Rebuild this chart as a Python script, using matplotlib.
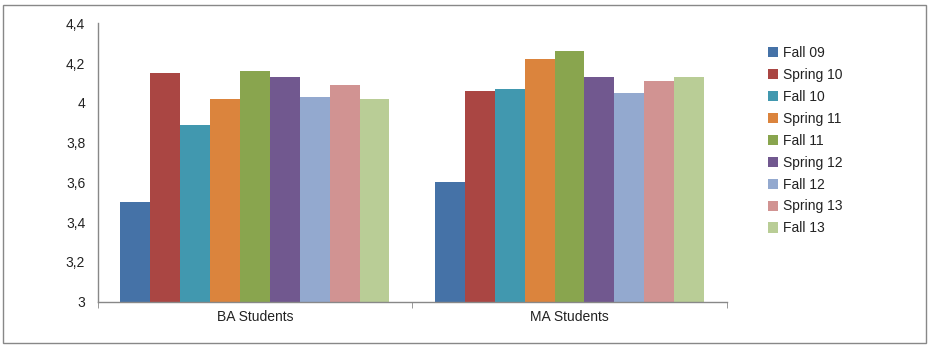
import numpy as np
import matplotlib
matplotlib.use("Agg")
import matplotlib.pyplot as plt
from matplotlib.patches import Rectangle, Patch

# Data
groups = ["BA Students", "MA Students"]
semesters = ["Fall 09", "Spring 10", "Fall 10", "Spring 11", "Fall 11",
             "Spring 12", "Fall 12", "Spring 13", "Fall 13"]
ba_scores = [3.50, 4.15, 3.89, 4.02, 4.16, 4.13, 4.03, 4.09, 4.02]
ma_scores = [3.60, 4.06, 4.07, 4.22, 4.26, 4.13, 4.05, 4.11, 4.13]
colors = ["#4572A7", "#AA4643", "#4198AF", "#DB843D", "#89A54E",
          "#71588F", "#93A9CF", "#D19392", "#B9CD96"]
yticks = [3, 3.2, 3.4, 3.6, 3.8, 4, 4.2, 4.4]
ytick_labels = ["3", "3,2", "3,4", "3,6", "3,8", "4", "4,2", "4,4"]

plt.rcParams["font.family"] = ["Liberation Sans", "DejaVu Sans"]
plt.rcParams["font.size"] = 10

fig = plt.figure(figsize=(9.32, 3.49), dpi=100)
ax = fig.add_axes([0.1048, 0.1355, 0.675, 0.7977])

# outer chart border
fig.patches.append(Rectangle((0.0032, 0.0172), 0.990, 0.968, transform=fig.transFigure,
                             fill=False, edgecolor="#888888", linewidth=1.0))

x = np.arange(len(groups))
bar_w = 0.855 / len(semesters)
for i, (name, col) in enumerate(zip(semesters, colors)):
    vals = [ba_scores[i], ma_scores[i]]
    offs = (i - (len(semesters) - 1) / 2) * bar_w
    ax.bar(x + offs, np.array(vals) - 3, width=bar_w, bottom=3, color=col,
           edgecolor="none", label=name)

ax.set_xlim(-0.5, 1.5)
ax.set_ylim(3, 4.4)
ax.set_yticks(yticks)
ax.set_yticklabels(ytick_labels, color="#222222")
ax.tick_params(axis="y", length=0, pad=9)

ax.set_xticks(x)
ax.set_xticklabels(groups, color="#222222")
ax.tick_params(axis="x", length=0, pad=6)
# category boundary ticks
ax.set_xticks([-0.5, 0.5, 1.5], minor=True)
ax.tick_params(axis="x", which="minor", length=4, color="#888888", direction="out")

for s in ["top", "right"]:
    ax.spines[s].set_visible(False)
for s in ["left", "bottom"]:
    ax.spines[s].set_color("#888888")
    ax.spines[s].set_linewidth(1.0)

handles = [Patch(facecolor=c, edgecolor="none") for c in colors]
leg = fig.legend(handles, semesters, loc="upper left", bbox_to_anchor=(0.818, 0.884),
                 frameon=False, handlelength=0.75, handleheight=0.75,
                 handletextpad=0.3, labelspacing=0.57, borderaxespad=0)
for t in leg.get_texts():
    t.set_color("#222222")

fig.savefig("out.png", dpi=100)
